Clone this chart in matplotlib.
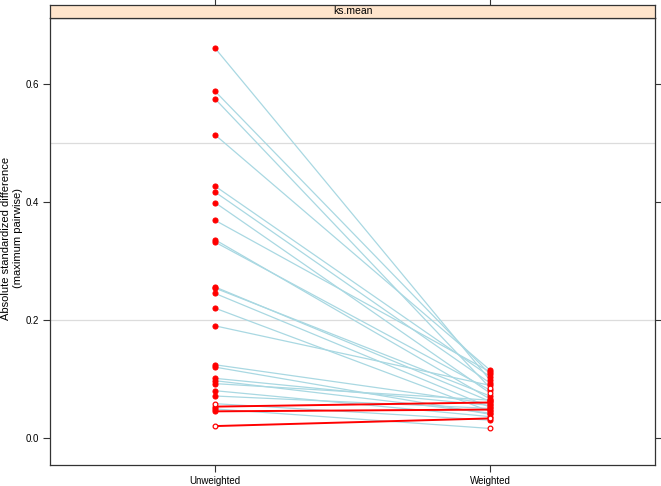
import matplotlib
matplotlib.use("Agg")
import matplotlib.pyplot as plt
import numpy as np

# balance values: unweighted vs weighted ks.mean per covariate
unweighted = [0.661, 0.588, 0.575, 0.514, 0.427, 0.417, 0.399, 0.369, 0.336, 0.332,
              0.256, 0.254, 0.245, 0.220, 0.190, 0.124, 0.120, 0.101, 0.097, 0.092,
              0.080, 0.071, 0.058, 0.053, 0.049, 0.045, 0.020]
weighted = [0.098, 0.108, 0.085, 0.115, 0.104, 0.093, 0.076, 0.112, 0.066, 0.081,
            0.062, 0.071, 0.052, 0.045, 0.089, 0.058, 0.040, 0.055, 0.042, 0.064,
            0.036, 0.050, 0.030, 0.060, 0.016, 0.048, 0.033]
# significant (filled) or not (open)
sig_unweighted = [True] * 22 + [False, True, True, True, False]
sig_weighted = [True, True, False, True, True, True, False, True, True, True,
                True, True, True, True, True, True, True, True, True, True,
                True, True, True, True, False, True, False]
x_labels = ["Unweighted", "Weighted"]
panel_title = "ks.mean"
y_ticks = [0.0, 0.2, 0.4, 0.6]
ref_lines = [0.2, 0.5]

plt.rcParams["font.family"] = ["Liberation Sans", "DejaVu Sans"]
plt.rcParams["font.size"] = 7

fig = plt.figure(figsize=(6.61, 4.86), dpi=100)
W, H = 661, 486
left, right, bottom, top = 50, 655, 465, 18
ax = fig.add_axes([left / W, 1 - bottom / H, (right - left) / W, (bottom - top) / H])
strip = fig.add_axes([left / W, 1 - top / H, (right - left) / W, 13 / H])

for y in ref_lines:
    ax.axhline(y, color="#dcdcdc", lw=0.9, zorder=1)

# blue lines for decreases first, red for increases on top
for u, w in zip(unweighted, weighted):
    if w <= u:
        ax.plot([1, 2], [u, w], color="#a9d8e2", lw=0.9, zorder=2)
for u, w in zip(unweighted, weighted):
    if w > u:
        ax.plot([1, 2], [u, w], color="red", lw=1.4, zorder=3)

for xpos, vals, sig in [(1, unweighted, sig_unweighted), (2, weighted, sig_weighted)]:
    vals = np.array(vals)
    sig = np.array(sig)
    ax.plot(np.full(sig.sum(), xpos), vals[sig], "o", color="red", ms=3.6,
            mew=0.8, zorder=4)
    ax.plot(np.full((~sig).sum(), xpos), vals[~sig], "o", mfc="white", mec="red",
            ms=3.4, mew=0.9, zorder=5)

ax.set_xlim(0.4, 2.6)
ax.set_ylim(-0.046, 0.712)
ax.set_xticks([1, 2])
ax.set_xticklabels(x_labels)
ax.set_yticks(y_ticks)
ax.set_yticklabels([f"{t:.1f}" for t in y_ticks])
ax.tick_params(axis="both", direction="out", length=5, width=0.8, color="#333333",
               labelsize=7, pad=3)
ax.tick_params(axis="y", right=True, labelright=False)
for sp in ax.spines.values():
    sp.set_linewidth(0.9)
    sp.set_color("#333333")

# y label placed by hand so it stays inside the figure
fig.text(12 / W, 1 - 238 / H, "Absolute standardized difference\n(maximum pairwise)",
         rotation=90, ha="center", va="center", fontsize=8, linespacing=1.3)

strip.set_facecolor("#ffe5cc")
strip.set_xlim(0.4, 2.6)
strip.set_ylim(0, 1)
strip.set_xticks([1, 2])
strip.set_yticks([])
strip.tick_params(axis="x", top=True, bottom=False, labeltop=False, labelbottom=False,
                  direction="out", length=5, width=0.8, color="#333333")
for sp in strip.spines.values():
    sp.set_linewidth(0.9)
    sp.set_color("#333333")
strip.text(0.5, 0.5, panel_title, transform=strip.transAxes, ha="center", va="center",
           fontsize=7.5)

fig.savefig("out.png", dpi=100)
